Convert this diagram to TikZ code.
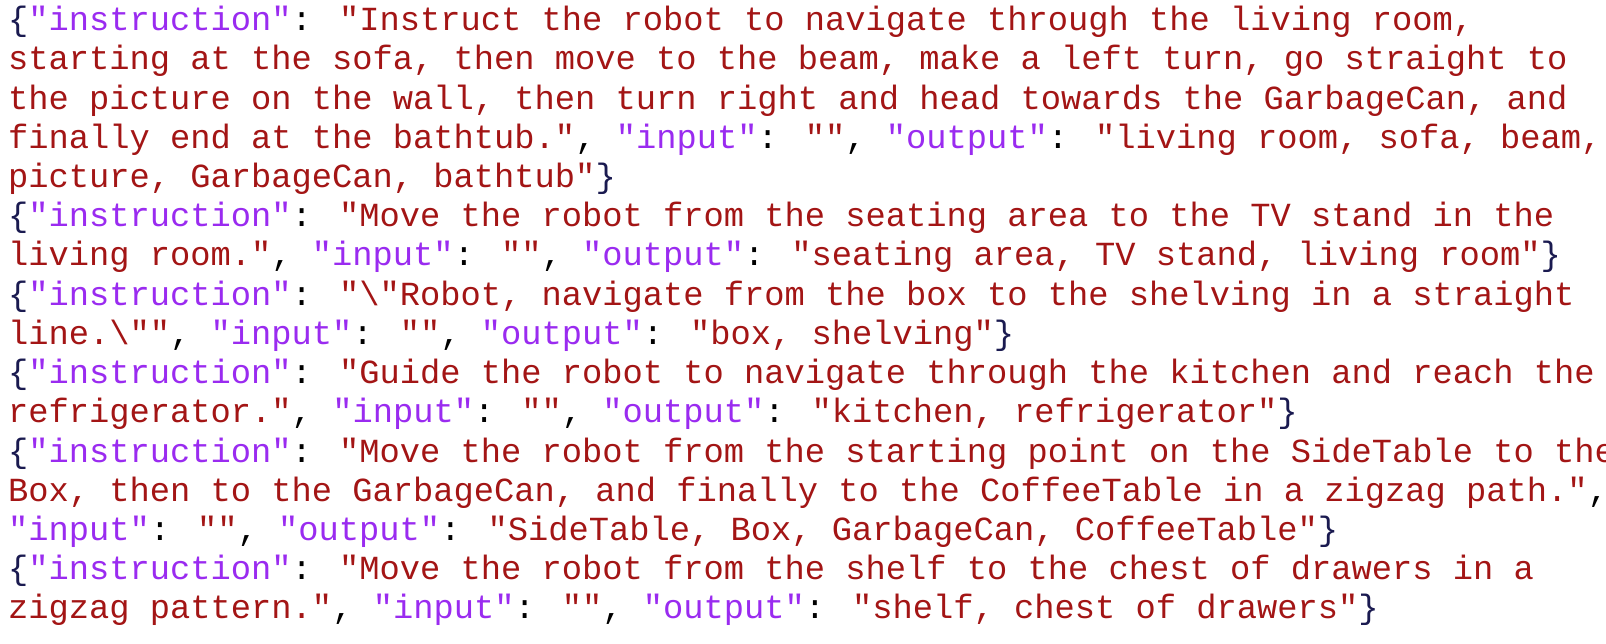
\documentclass[tikz,border=0pt]{standalone}
\usepackage{fontspec}
\newfontfamily\mono{Liberation Mono}
\definecolor{kc}{HTML}{9A2BF0}
\definecolor{sc}{HTML}{A31515}
\definecolor{bc}{HTML}{1A1A50}
\newcommand\Kk[1]{\textcolor{kc}{#1}}
\newcommand\Ss[1]{\textcolor{sc}{#1}}
\newcommand\Lb{\textcolor{bc}{\{}}
\newcommand\Rb{\textcolor{bc}{\}}}
\newcommand\BS{\textbackslash}
\begin{document}
\begin{tikzpicture}[x=1pt,y=1pt,ln/.style={anchor=base west,inner sep=0pt,font=\mono\fontsize{33.75}{39}\selectfont}]
\useasboundingbox (0,0) rectangle (1606,-644);
\fill[white] (0,0) rectangle (1606,-644);
\def\X{8}
\def\D{39.2}
\node[ln] (l1) at (\X,-30.8) {\Lb\Kk{"instruction"}: \Ss{"Instruct the robot to navigate through the living room,}};
\node[ln] (l2) at ([yshift=-\D pt]l1.base west) {\Ss{starting at the sofa, then move to the beam, make a left turn, go straight to}};
\node[ln] (l3) at ([yshift=-\D pt]l2.base west) {\Ss{the picture on the wall, then turn right and head towards the GarbageCan, and}};
\node[ln] (l4) at ([yshift=-\D pt]l3.base west) {\Ss{finally end at the bathtub."}, \Kk{"input"}: \Ss{""}, \Kk{"output"}: \Ss{"living room, sofa, beam,}};
\node[ln] (l5) at ([yshift=-\D pt]l4.base west) {\Ss{picture, GarbageCan, bathtub"}\Rb};
\node[ln] (l6) at ([yshift=-\D pt]l5.base west) {\Lb\Kk{"instruction"}: \Ss{"Move the robot from the seating area to the TV stand in the}};
\node[ln] (l7) at ([yshift=-\D pt]l6.base west) {\Ss{living room."}, \Kk{"input"}: \Ss{""}, \Kk{"output"}: \Ss{"seating area, TV stand, living room"}\Rb};
\node[ln] (l8) at ([yshift=-\D pt]l7.base west) {\Lb\Kk{"instruction"}: \Ss{"\BS"Robot, navigate from the box to the shelving in a straight}};
\node[ln] (l9) at ([yshift=-\D pt]l8.base west) {\Ss{line.\BS""}, \Kk{"input"}: \Ss{""}, \Kk{"output"}: \Ss{"box, shelving"}\Rb};
\node[ln] (l10) at ([yshift=-\D pt]l9.base west) {\Lb\Kk{"instruction"}: \Ss{"Guide the robot to navigate through the kitchen and reach the}};
\node[ln] (l11) at ([yshift=-\D pt]l10.base west) {\Ss{refrigerator."}, \Kk{"input"}: \Ss{""}, \Kk{"output"}: \Ss{"kitchen, refrigerator"}\Rb};
\node[ln] (l12) at ([yshift=-\D pt]l11.base west) {\Lb\Kk{"instruction"}: \Ss{"Move the robot from the starting point on the SideTable to the}};
\node[ln] (l13) at ([yshift=-\D pt]l12.base west) {\Ss{Box, then to the GarbageCan, and finally to the CoffeeTable in a zigzag path."},};
\node[ln] (l14) at ([yshift=-\D pt]l13.base west) {\Kk{"input"}: \Ss{""}, \Kk{"output"}: \Ss{"SideTable, Box, GarbageCan, CoffeeTable"}\Rb};
\node[ln] (l15) at ([yshift=-\D pt]l14.base west) {\Lb\Kk{"instruction"}: \Ss{"Move the robot from the shelf to the chest of drawers in a}};
\node[ln] (l16) at ([yshift=-\D pt]l15.base west) {\Ss{zigzag pattern."}, \Kk{"input"}: \Ss{""}, \Kk{"output"}: \Ss{"shelf, chest of drawers"}\Rb};
\end{tikzpicture}
\end{document}
